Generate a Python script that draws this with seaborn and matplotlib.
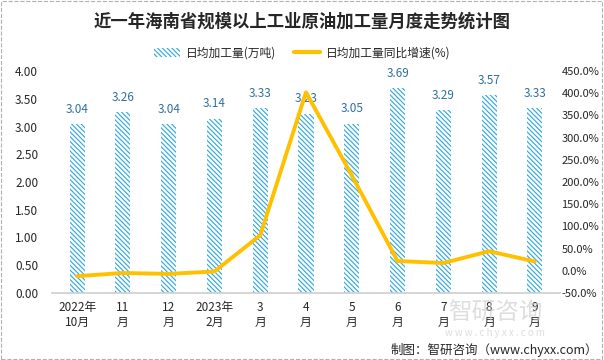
import numpy as np
import pandas as pd
import matplotlib
matplotlib.use("Agg")
import matplotlib.pyplot as plt
import seaborn as sns
from matplotlib.patches import Patch, Rectangle
from matplotlib.lines import Line2D

months = ["2022年\n10月", "11\n月", "12\n月", "2023年\n2月", "3\n月", "4\n月",
          "5\n月", "6\n月", "7\n月", "8\n月", "9\n月"]
daily_output = [3.04, 3.26, 3.04, 3.14, 3.33, 3.23, 3.05, 3.69, 3.29, 3.57, 3.33]
yoy_growth = [-12.0, -5.0, -7.0, -1.5, 80.0, 402.0, 215.0, 22.0, 17.5, 44.0, 21.0]

sns.set_theme(style="white")
plt.rcParams['font.family'] = ['Noto Sans CJK SC', 'DejaVu Sans']
plt.rcParams['hatch.linewidth'] = 0.8
plt.rcParams['axes.unicode_minus'] = False

bar_color = "#2aa8dc"
line_color = "#ffc000"
label_color = "#2f6f9f"
hatch = "\\" * 7

df = pd.DataFrame({"month": months, "output": daily_output, "growth": yoy_growth})

fig = plt.figure(figsize=(6.04, 3.6), dpi=100)
ax = fig.add_axes([52 / 604, 67 / 360, 508 / 604, 222 / 360])

sns.barplot(data=df, x="month", y="output", ax=ax, color="white", width=0.33,
            edgecolor=bar_color, linewidth=0, hatch=hatch, saturation=1)
for p in ax.patches:
    p.set_edgecolor(bar_color)
    p.set_facecolor("white")

for i, v in enumerate(daily_output):
    ax.text(i, v + 0.15, f"{v:.2f}", ha="center", va="bottom", fontsize=8.5,
            color=label_color)

ax.set_ylim(0, 4.0)
ax.set_yticks(np.arange(0, 4.01, 0.5))
ax.set_yticklabels([f"{t:.2f}" for t in np.arange(0, 4.01, 0.5)], fontsize=8.5)
ax.set_xlim(-0.55, 10.55)
ax.set_xlabel("")
ax.set_ylabel("")
ax.tick_params(axis="x", labelsize=8.5, length=0, pad=6)
ax.tick_params(axis="y", length=0, pad=10)
for s in ["top", "right", "left"]:
    ax.spines[s].set_visible(False)
ax.spines["bottom"].set_color("#d0d0d0")

ax2 = ax.twinx()
sns.lineplot(x=np.arange(len(months)), y=yoy_growth, ax=ax2, color=line_color,
             linewidth=2.8)
ax2.set_ylim(-50, 450)
ax2.set_yticks(np.arange(-50, 451, 50))
ax2.set_yticklabels([f"{t:.1f}%" for t in np.arange(-50, 451, 50)], fontsize=8)
ax2.tick_params(axis="y", length=0, pad=1)
for s in ["top", "right", "left", "bottom"]:
    ax2.spines[s].set_visible(False)

handles = [Patch(facecolor="white", edgecolor=bar_color, hatch=hatch, linewidth=0),
           Line2D([0], [0], color=line_color, linewidth=3)]
fig.legend(handles, ["日均加工量(万吨)", "日均加工量同比增速(%)"], loc="center",
           bbox_to_anchor=(0.5, 1 - 53 / 360), ncol=2, frameon=False, fontsize=8.5,
           handlelength=2.2, columnspacing=1.5, handletextpad=0.5)

fig.text(0.5, 1 - 22 / 360, "近一年海南省规模以上工业原油加工量月度走势统计图",
         ha="center", va="center", fontsize=12.5, fontweight="bold")
fig.text(0.99, 1 - 350 / 360, "制图：智研咨询（www.chyxx.com）", ha="right",
         va="center", fontsize=9)

# faint watermark
fig.text(0.82, 1 - 313 / 360, "智研咨询", ha="center", va="center", fontsize=17,
         color="#c8c8c8", alpha=0.6, zorder=0)
fig.text(0.82, 1 - 333 / 360, "w w w . c h y x x . c o m", ha="center", va="center",
         fontsize=7, color="#c8c8c8", alpha=0.6, zorder=0)

fig.patches.append(Rectangle((0.002, 0.003), 0.995, 0.994, transform=fig.transFigure,
                             fill=False, edgecolor="#b0b0b0", linestyle="--", linewidth=0.8))

fig.savefig("out.png", dpi=100)
